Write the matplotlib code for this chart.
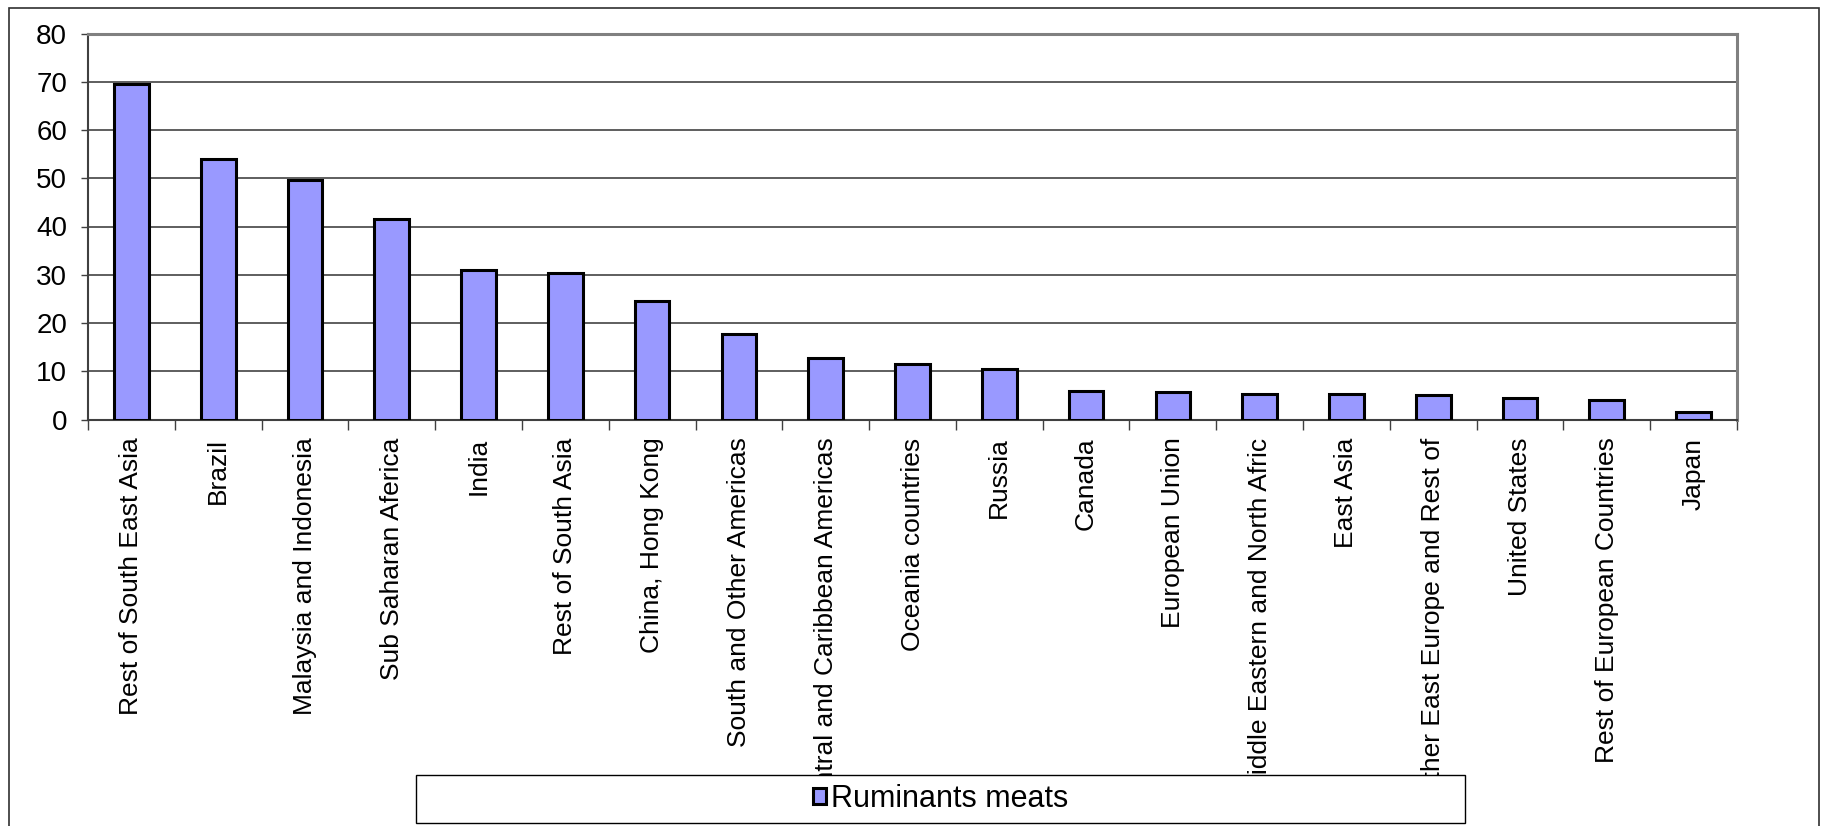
import numpy as np
import matplotlib
matplotlib.use("Agg")
import matplotlib.pyplot as plt
from matplotlib.patches import Rectangle

plt.rcParams['font.family'] = ['Liberation Sans', 'DejaVu Sans']

regions = ["Rest of South East Asia", "Brazil", "Malaysia and Indonesia",
           "Sub Saharan Aferica", "India", "Rest of South Asia", "China, Hong Kong",
           "South and Other Americas", "Central and Caribbean Americas",
           "Oceania countries", "Russia", "Canada", "European Union",
           "Middle Eastern and North Afric", "East Asia",
           "Other East Europe and Rest of", "United States",
           "Rest of European Countries", "Japan"]
ruminants = [69.6, 54.0, 49.7, 41.5, 31.0, 30.3, 24.5, 17.7, 12.7, 11.4,
             10.4, 5.9, 5.6, 5.3, 5.3, 5.0, 4.5, 4.0, 1.5]
series_name = "Ruminants meats"
yticks = [0, 10, 20, 30, 40, 50, 60, 70, 80]

W, H = 1822, 826
fig = plt.figure(figsize=(W / 100, H / 100), dpi=100)
ax = fig.add_axes([88 / W, 1 - 419.5 / H, (1737 - 88) / W, (419.5 - 33.5) / H])

x = np.arange(len(regions))
ax.bar(x, ruminants, width=0.4, color="#9999FF", edgecolor="black",
       linewidth=2.2, zorder=3, label=series_name)

ax.set_xlim(-0.5, len(regions) - 0.5)
ax.set_ylim(0, 80)
ax.set_yticks(yticks)
ax.tick_params(axis="y", labelsize=20, length=5, width=1, direction="out",
               color="#404040", pad=10)
ax.yaxis.grid(True, color="#333333", linewidth=1.1, zorder=0)
ax.set_axisbelow(True)

# tick marks between categories, labels centred under bars
ax.set_xticks(np.arange(-0.5, len(regions), 1))
ax.set_xticklabels([])
ax.set_xticks(x, minor=True)
ax.set_xticklabels(regions, minor=True, rotation=90, va="top", ha="center",
                   fontsize=19)
ax.tick_params(axis="x", which="major", length=7, width=1, color="#404040")
ax.tick_params(axis="x", which="minor", length=0, pad=13)

ax.spines["left"].set_color("#404040")
ax.spines["left"].set_linewidth(1.5)
ax.spines["bottom"].set_color("#404040")
ax.spines["bottom"].set_linewidth(1.5)
ax.spines["top"].set_color("#808080")
ax.spines["top"].set_linewidth(2.2)
ax.spines["right"].set_color("#808080")
ax.spines["right"].set_linewidth(2.2)

# outer chart frame
fig.patches.append(Rectangle((9 / W, -0.1), (1819 - 9) / W, 1.1 - 7.5 / H,
                             transform=fig.transFigure, fill=False,
                             edgecolor="#303030", linewidth=1.2, zorder=1))

# legend box covers the ends of long labels
lx0, lx1, ly0, ly1 = 416, 1465, 775, 823
fig.patches.append(Rectangle((lx0 / W, 1 - ly1 / H), (lx1 - lx0) / W, (ly1 - ly0) / H,
                             transform=fig.transFigure, facecolor="white",
                             edgecolor="black", linewidth=1.0, zorder=5))
handles, labels = ax.get_legend_handles_labels()
leg = fig.legend(handles, labels, loc="center",
                 bbox_to_anchor=((lx0 + lx1) / 2 / W, 1 - (ly0 + ly1) / 2 / H),
                 frameon=False, fontsize=22, handlelength=0.45, handleheight=0.45,
                 handletextpad=0.15, borderpad=0)
leg.set_zorder(6)

fig.savefig("out.png", dpi=100)
